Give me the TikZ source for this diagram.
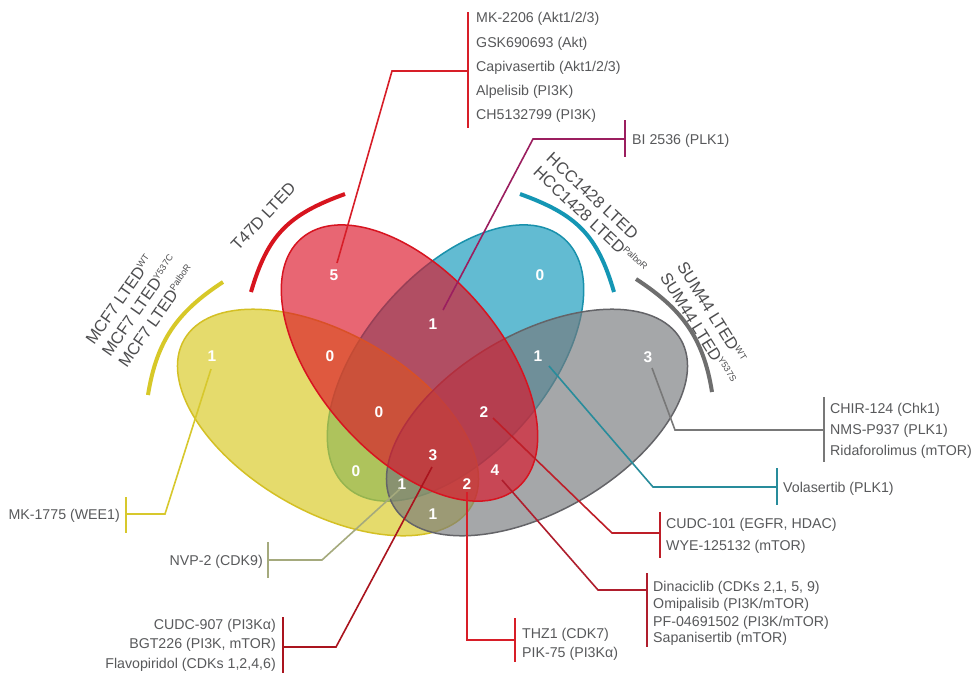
\documentclass[tikz,border=0pt]{standalone}
\usepackage{fontspec}
\setmainfont{Liberation Sans}
\definecolor{yfill}{RGB}{216,200,30}
\definecolor{yedge}{RGB}{212,192,36}
\definecolor{rfill}{RGB}{220,20,40}
\definecolor{redge}{RGB}{215,20,32}
\definecolor{bfill}{RGB}{14,152,187}
\definecolor{bedge}{RGB}{25,145,172}
\definecolor{gfill}{RGB}{118,120,123}
\definecolor{gedge}{RGB}{100,100,104}
\definecolor{txtc}{RGB}{88,89,91}
\definecolor{cellc}{RGB}{77,77,79}
\definecolor{cA}{RGB}{215,30,40}
\definecolor{cB}{RGB}{155,30,95}
\definecolor{cC}{RGB}{40,140,155}
\definecolor{cD}{RGB}{120,120,120}
\definecolor{cE}{RGB}{190,30,40}
\definecolor{cF}{RGB}{175,30,45}
\definecolor{cG}{RGB}{215,30,40}
\definecolor{cH}{RGB}{170,20,30}
\definecolor{cI}{RGB}{165,170,125}
\definecolor{cJ}{RGB}{215,200,45}
\definecolor{arcY}{RGB}{215,200,40}
\definecolor{arcR}{RGB}{215,20,30}
\definecolor{arcB}{RGB}{20,150,180}
\definecolor{arcG}{RGB}{110,110,110}
\tikzset{
  venn/.style={line width=1.5pt, fill opacity=0.65},
  num/.style={text=white, font=\fontsize{15.5}{15.5}\selectfont\bfseries, inner sep=0pt},
  lead/.style={line width=1.6pt},
  brk/.style={line width=1.6pt},
  drug/.style={text=txtc, font=\fontsize{14.2}{17}\selectfont, inner sep=0pt},
  drugL/.style={drug, anchor=base west},
  drugR/.style={drug, anchor=base east},
  cell/.style={text=cellc, inner sep=0pt, anchor=base west},
  arcline/.style={line width=4pt},
}
\newcommand{\supx}[1]{\raisebox{5.5pt}{\fontsize{9}{9}\selectfont #1}}
\newcommand{\cellstack}[2]{\fontsize{16.5}{#1}\selectfont\begin{tabular}[t]{@{}l@{}}#2\end{tabular}}
\begin{document}
\begin{tikzpicture}[x=1pt,y=-1pt]
\fill[white] (0,0) rectangle (971,675);
\useasboundingbox (0,0) rectangle (971,675);
% ellipse centres
\coordinate (yc) at (328,422.5);
\coordinate (rc) at (409.5,363);
\coordinate (bc) at (455.5,363);
\coordinate (gc) at (537,422.5);
\draw[venn, draw=bedge, fill=bfill, rotate around={49:(bc)}] (bc) ellipse [x radius=165pt, y radius=91pt];
\draw[venn, draw=yedge, fill=yfill, rotate around={-30:(yc)}] (yc) ellipse [x radius=166pt, y radius=89pt];
\draw[venn, draw=gedge, fill=gfill, rotate around={30:(gc)}] (gc) ellipse [x radius=166pt, y radius=89pt];
\draw[venn, draw=redge, fill=rfill, rotate around={-49:(rc)}] (rc) ellipse [x radius=165pt, y radius=91pt];
% numbers
\node[num] (nY)    at (212,356) {1};
\node[num] (nR)    at (334,275) {5};
\node[num] (nB)    at (540,275) {0};
\node[num] (nG)    at (648,357) {3};
\node[num] (nRB)   at (433,324) {1};
\node[num] (nYR)   at (330,356) {0};
\node[num] (nBG)   at (538,356) {1};
\node[num] (nYRB)  at (379,412) {0};
\node[num] (nRBG)  at (484,412) {2};
\node[num] (nYB)   at (356,471) {0};
\node[num] (nYRBG) at (433,455) {3};
\node[num] (nRG)   at (495,470) {4};
\node[num] (nYBG)  at (402,484) {1};
\node[num] (nYRG)  at (467,484) {2};
\node[num] (nYG)   at (433,514) {1};
% arcs
\coordinate (aY0) at (223,282); \coordinate (aY1) at (148,395);
\coordinate (aR0) at (345,194); \coordinate (aR1) at (251,292);
\coordinate (aB0) at (520,194); \coordinate (aB1) at (614,292);
\coordinate (aG0) at (636,279); \coordinate (aG1) at (712,392);
\draw[arcline, arcY] (aY0) .. controls (177,312) and (156.6,341) .. (aY1);
\draw[arcline, arcR] (aR0) .. controls (288.6,214.4) and (267.8,234.4) .. (aR1);
\draw[arcline, arcB] (aB0) .. controls (576.4,214.4) and (597.2,234.4) .. (aB1);
\draw[arcline, arcG] (aG0) .. controls (682,309) and (703.4,337.7) .. (aG1);
% cell-line labels
\node[cell, rotate=47] (lT) at (238,252) {\cellstack{20}{T47D LTED}};
\node[cell, rotate=55] (lM) at (94,346) {\cellstack{20}{MCF7 LTED\supx{WT}\\MCF7 LTED\supx{Y537C}\\MCF7 LTED\supx{PalboR}}};
\node[cell, rotate=-43] (lH) at (545.3,159.8) {\cellstack{19}{HCC1428 LTED\\HCC1428 LTED\supx{PalboR}}};
\node[cell, rotate=-58] (lS) at (676.5,266.4) {\cellstack{20}{SUM44 LTED\supx{WT}\\SUM44 LTED\supx{Y537S}}};
% ---- group 1: MK-2206 ...
\coordinate (s1) at (337,263); \coordinate (k1) at (392,71); \coordinate (b1) at (468,71);
\coordinate (b1t) at (468,12); \coordinate (b1b) at (468,128);
\draw[lead, cA] (s1) -- (k1) -- (b1);
\draw[brk, cA] (b1t) -- (b1b);
\node[drugL] (t1a) at (476,22) {MK-2206 (Akt1/2/3)};
\node[drugL] (t1b) at (476,47) {GSK690693 (Akt)};
\node[drugL] (t1c) at (476,71) {Capivasertib (Akt1/2/3)};
\node[drugL] (t1d) at (476,95) {Alpelisib (PI3K)};
\node[drugL] (t1e) at (476,119) {CH5132799 (PI3K)};
% ---- group 2: BI 2536
\coordinate (s2) at (443,310); \coordinate (k2) at (533,139); \coordinate (b2) at (625,139);
\coordinate (b2t) at (625,120); \coordinate (b2b) at (625,157);
\draw[lead, cB] (s2) -- (k2) -- (b2);
\draw[brk, cB] (b2t) -- (b2b);
\node[drugL] (t2a) at (632,144) {BI 2536 (PLK1)};
% ---- group 3: Volasertib
\coordinate (s3) at (549,366); \coordinate (k3) at (653,487); \coordinate (b3) at (777,487);
\coordinate (b3t) at (777,468); \coordinate (b3b) at (777,505);
\draw[lead, cC] (s3) -- (k3) -- (b3);
\draw[brk, cC] (b3t) -- (b3b);
\node[drugL] (t3a) at (783,492) {Volasertib (PLK1)};
% ---- group 4: CHIR-124 ...
\coordinate (s4) at (652,368); \coordinate (k4) at (675,430); \coordinate (b4) at (824,430);
\coordinate (b4t) at (824,397); \coordinate (b4b) at (824,462);
\draw[lead, cD] (s4) -- (k4) -- (b4);
\draw[brk, cD] (b4t) -- (b4b);
\node[drugL] (t4a) at (830,413) {CHIR-124 (Chk1)};
\node[drugL] (t4b) at (830,434) {NMS-P937 (PLK1)};
\node[drugL] (t4c) at (830,455) {Ridaforolimus (mTOR)};
% ---- group 5: CUDC-101 ...
\coordinate (s5) at (493,418); \coordinate (k5) at (612,533); \coordinate (b5) at (660,533);
\coordinate (b5t) at (660,512); \coordinate (b5b) at (660,558);
\draw[lead, cE] (s5) -- (k5) -- (b5);
\draw[brk, cE] (b5t) -- (b5b);
\node[drugL] (t5a) at (666,528) {CUDC-101 (EGFR, HDAC)};
\node[drugL] (t5b) at (666,550) {WYE-125132 (mTOR)};
% ---- group 6: Dinaciclib ...
\coordinate (s6) at (502,480); \coordinate (k6) at (598,590); \coordinate (b6) at (647,590);
\coordinate (b6t) at (647,573); \coordinate (b6b) at (647,647);
\draw[lead, cF] (s6) -- (k6) -- (b6);
\draw[brk, cF] (b6t) -- (b6b);
\node[drugL] (t6a) at (653,591) {Dinaciclib (CDKs 2,1, 5, 9)};
\node[drugL] (t6b) at (653,608) {Omipalisib (PI3K/mTOR)};
\node[drugL] (t6c) at (653,626) {PF-04691502 (PI3K/mTOR)};
\node[drugL] (t6d) at (653,642) {Sapanisertib (mTOR)};
% ---- group 7: THZ1 ...
\coordinate (s7) at (467,492); \coordinate (k7) at (467,640); \coordinate (b7) at (515,640);
\coordinate (b7t) at (515,618); \coordinate (b7b) at (515,662);
\draw[lead, cG] (s7) -- (k7) -- (b7);
\draw[brk, cG] (b7t) -- (b7b);
\node[drugL] (t7a) at (522,638) {THZ1 (CDK7)};
\node[drugL] (t7b) at (522,657) {PIK-75 (PI3Kα)};
% ---- group 8: CUDC-907 ...
\coordinate (s8) at (432,467); \coordinate (k8) at (336,647); \coordinate (b8) at (283,647);
\coordinate (b8t) at (283,617); \coordinate (b8b) at (283,673);
\draw[lead, cH] (s8) -- (k8) -- (b8);
\draw[brk, cH] (b8t) -- (b8b);
\node[drugR] (t8a) at (276,629) {CUDC-907 (PI3Kα)};
\node[drugR] (t8b) at (276,648) {BGT226 (PI3K, mTOR)};
\node[drugR] (t8c) at (276,668) {Flavopiridol (CDKs 1,2,4,6)};
% ---- group 9: NVP-2
\coordinate (s9) at (400,489); \coordinate (k9) at (322,560); \coordinate (b9) at (268,560);
\coordinate (b9t) at (268,542); \coordinate (b9b) at (268,578);
\draw[lead, cI] (s9) -- (k9) -- (b9);
\draw[brk, cI] (b9t) -- (b9b);
\node[drugR] (t9a) at (263,565) {NVP-2 (CDK9)};
% ---- group 10: MK-1775
\coordinate (s10) at (211,369); \coordinate (k10) at (165,514); \coordinate (b10) at (126,514);
\coordinate (b10t) at (126,497); \coordinate (b10b) at (126,533);
\draw[lead, cJ] (s10) -- (k10) -- (b10);
\draw[brk, cJ] (b10t) -- (b10b);
\node[drugR] (t10a) at (120,519) {MK-1775 (WEE1)};
\end{tikzpicture}
\end{document}
